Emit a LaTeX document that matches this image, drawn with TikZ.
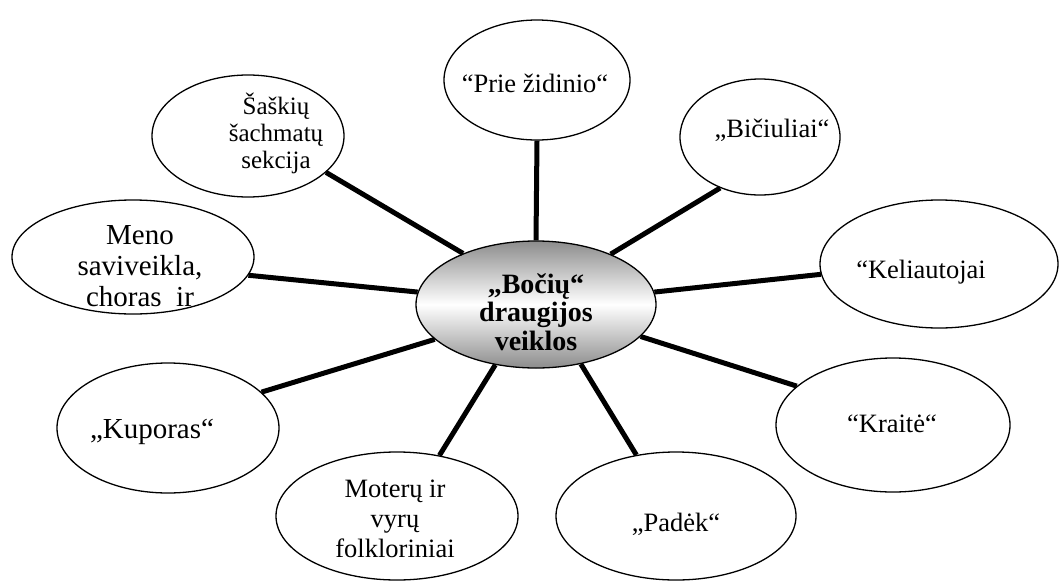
\documentclass[tikz,border=0pt]{standalone}
\usepackage{fontspec}
\setmainfont{Liberation Serif}
\usetikzlibrary{shapes.geometric}
\begin{document}
\begin{tikzpicture}[x=1pt,y=-1pt,
  oval/.style={draw=black,line width=1.3pt,ellipse,inner sep=0pt,fill=white},
  lbl/.style={align=center,inner sep=0pt,font=\fontsize{26.5}{30}\selectfont},
  spoke/.style={line width=5pt}]
\useasboundingbox (0,0) rectangle (1060,581);
% centre
\node[oval,minimum width=240pt,minimum height=127pt,top color=black!45,bottom color=black!45,middle color=white] (c) at (536,304.5) {};
\node[align=center,inner sep=0pt,font=\bfseries\fontsize{28}{28.5}\selectfont] (ct) at (536,312) {„Bočių“\\draugijos\\veiklos};
% outer ellipses
\node[oval,minimum width=186pt,minimum height=120pt] (prie) at (537,80) {};
\node[oval,minimum width=160pt,minimum height=116pt] (bic) at (760,137) {};
\node[oval,minimum width=238pt,minimum height=128pt] (kel) at (939,264) {};
\node[oval,minimum width=234pt,minimum height=134pt] (kra) at (893,425) {};
\node[oval,minimum width=240pt,minimum height=128pt] (pad) at (676,516) {};
\node[oval,minimum width=242pt,minimum height=128pt] (mot) at (397,516) {};
\node[oval,minimum width=222pt,minimum height=130pt] (kup) at (168,428) {};
\node[oval,minimum width=242pt,minimum height=114pt] (meno) at (133,257) {};
\node[oval,minimum width=192pt,minimum height=122pt] (sas) at (248,136) {};
% texts
\node[lbl] (priet) at (535,83) {“Prie židinio“};
\node[lbl] (bict) at (772,130) {„Bičiuliai“};
\node[lbl] (kelt) at (921,272) {“Keliautojai};
\node[lbl] (krat) at (892,424) {“Kraitė“};
\node[lbl] (padt) at (676,524) {„Padėk“};
\node[lbl] (mott) at (395,519) {Moterų ir\\vyrų\\folkloriniai};
\node[lbl,font=\fontsize{29}{31}\selectfont] (kupt) at (152,432) {„Kuporas“};
\node[lbl,font=\fontsize{29}{31}\selectfont] (menot) at (140,266) {Meno\\saviveikla,\\choras~~ir};
\node[lbl,font=\fontsize{25}{27}\selectfont] (sast) at (276,133) {Šaškių\\šachmatų\\sekcija};
% spokes
\draw[spoke] (c.90) -- (prie.270);
\draw[spoke] (c.34.6) -- (bic.232.4);
\draw[spoke] (c.6.9) -- (kel.185.4);
\draw[spoke] (c.-17.4) -- (kra.158.7);
\draw[spoke] (c.-53.5) -- (pad.123.7);
\draw[spoke] (c.236.5) -- (mot.55.7);
\draw[spoke] (c.199.2) -- (kup.21.8);
\draw[spoke] (c.174) -- (meno.-9.9);
\draw[spoke] (c.145.4) -- (sas.-25.8);
\end{tikzpicture}
\end{document}
